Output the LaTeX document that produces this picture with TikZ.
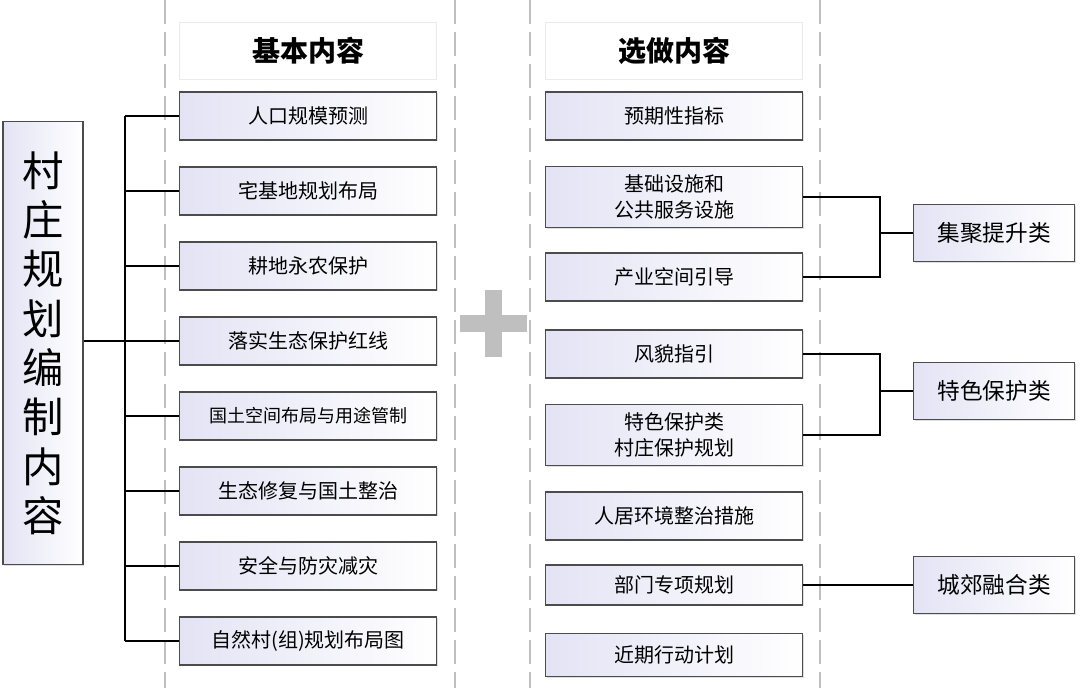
\documentclass[tikz,border=0pt]{standalone}
\usepackage{fontspec}
\setmainfont{Noto Sans CJK SC}
\usetikzlibrary{shadows}
\definecolor{lav}{rgb}{0.89,0.89,0.96}
\tikzstyle{item}=[rectangle, draw=black!70, line width=0.9pt, left color=lav, right color=white, minimum width=193pt, minimum height=36pt, align=center, font=\fontsize{15}{17}\selectfont, drop shadow={shadow xshift=1pt, shadow yshift=-1pt, opacity=0.25}]
\tikzstyle{head}=[rectangle, draw=black!8, fill=white, minimum width=193pt, minimum height=43pt, font=\bfseries\fontsize{21}{23}\selectfont]
\tikzstyle{kind}=[item, minimum width=121pt, minimum height=43pt, font=\fontsize{17}{19}\selectfont]
\tikzstyle{panel}=[draw=black!25, dashed, dash pattern=on 18pt off 6pt, line width=1pt]
\tikzstyle{wire}=[draw=black, line width=0.8pt]
\begin{document}
\begin{tikzpicture}[x=0.75pt, y=-0.75pt]
    \useasboundingbox (0,0) rectangle (1080,688);
    % dashed panels
    \draw [style=panel] (165,0) -- (165,688);
    \draw [style=panel] (455,0) -- (455,688);
    \draw [style=panel] (530,0) -- (530,688);
    \draw [style=panel] (820,0) -- (820,688);
    % plus sign
    \fill [black!25] (485,290) rectangle (502,357);
    \fill [black!25] (460,315) rectangle (527,332);
    % main box
    \node [style=item, minimum width=60pt, minimum height=332pt, font=\fontsize{31}{37}\selectfont] (main) at (43,343) {村\\庄\\规\\划\\编\\制\\内\\容};
    % basic content
    \node [style=head] (basic) at (308,51) {基本内容};
    \node [style=item] (b1) at (308,116) {人口规模预测};
    \node [style=item] (b2) at (308,191) {宅基地规划布局};
    \node [style=item] (b3) at (308,266) {耕地永农保护};
    \node [style=item] (b4) at (308,341) {落实生态保护红线};
    \node [style=item, font=\fontsize{13.5}{15}\selectfont] (b5) at (308,416) {国土空间布局与用途管制};
    \node [style=item] (b6) at (308,491) {生态修复与国土整治};
    \node [style=item] (b7) at (308,566) {安全与防灾减灾};
    \node [style=item] (b8) at (308,641) {自然村(组)规划布局图};
    \coordinate (trunk) at (125,341);
    \draw [style=wire] (main.east |- trunk) -- (trunk);
    \draw [style=wire] (125,116) -- (125,641);
    \foreach \n in {b1,b2,b3,b4,b5,b6,b7,b8}
        \draw [style=wire] (\n.west) -- (\n.west -| trunk);
    % optional content
    \node [style=head] (extra) at (674,51) {选做内容};
    \node [style=item] (o1) at (674,116) {预期性指标};
    \node [style=item, minimum height=46pt, font=\fontsize{15}{19}\selectfont] (o2) at (674,197) {基础设施和\\公共服务设施};
    \node [style=item] (o3) at (674,277) {产业空间引导};
    \node [style=item] (o4) at (674,354) {风貌指引};
    \node [style=item, minimum height=46pt, font=\fontsize{15}{19}\selectfont] (o5) at (674,435) {特色保护类\\村庄保护规划};
    \node [style=item] (o6) at (674,516) {人居环境整治措施};
    \node [style=item, minimum height=30pt] (o7) at (674,585) {部门专项规划};
    \node [style=item, minimum height=32pt] (o8) at (674,655) {近期行动计划};
    % village types
    \node [style=kind] (k1) at (994,233) {集聚提升类};
    \node [style=kind] (k2) at (994,391) {特色保护类};
    \node [style=kind] (k3) at (994,585) {城郊融合类};
    \draw [style=wire] (o2.east) -| (880,233) |- (o3.east);
    \draw [style=wire] (880,233) -- (k1.west);
    \draw [style=wire] (o4.east) -| (880,391) |- (o5.east);
    \draw [style=wire] (880,391) -- (k2.west);
    \draw [style=wire] (o7.east) -- (k3.west);
\end{tikzpicture}
\end{document}
